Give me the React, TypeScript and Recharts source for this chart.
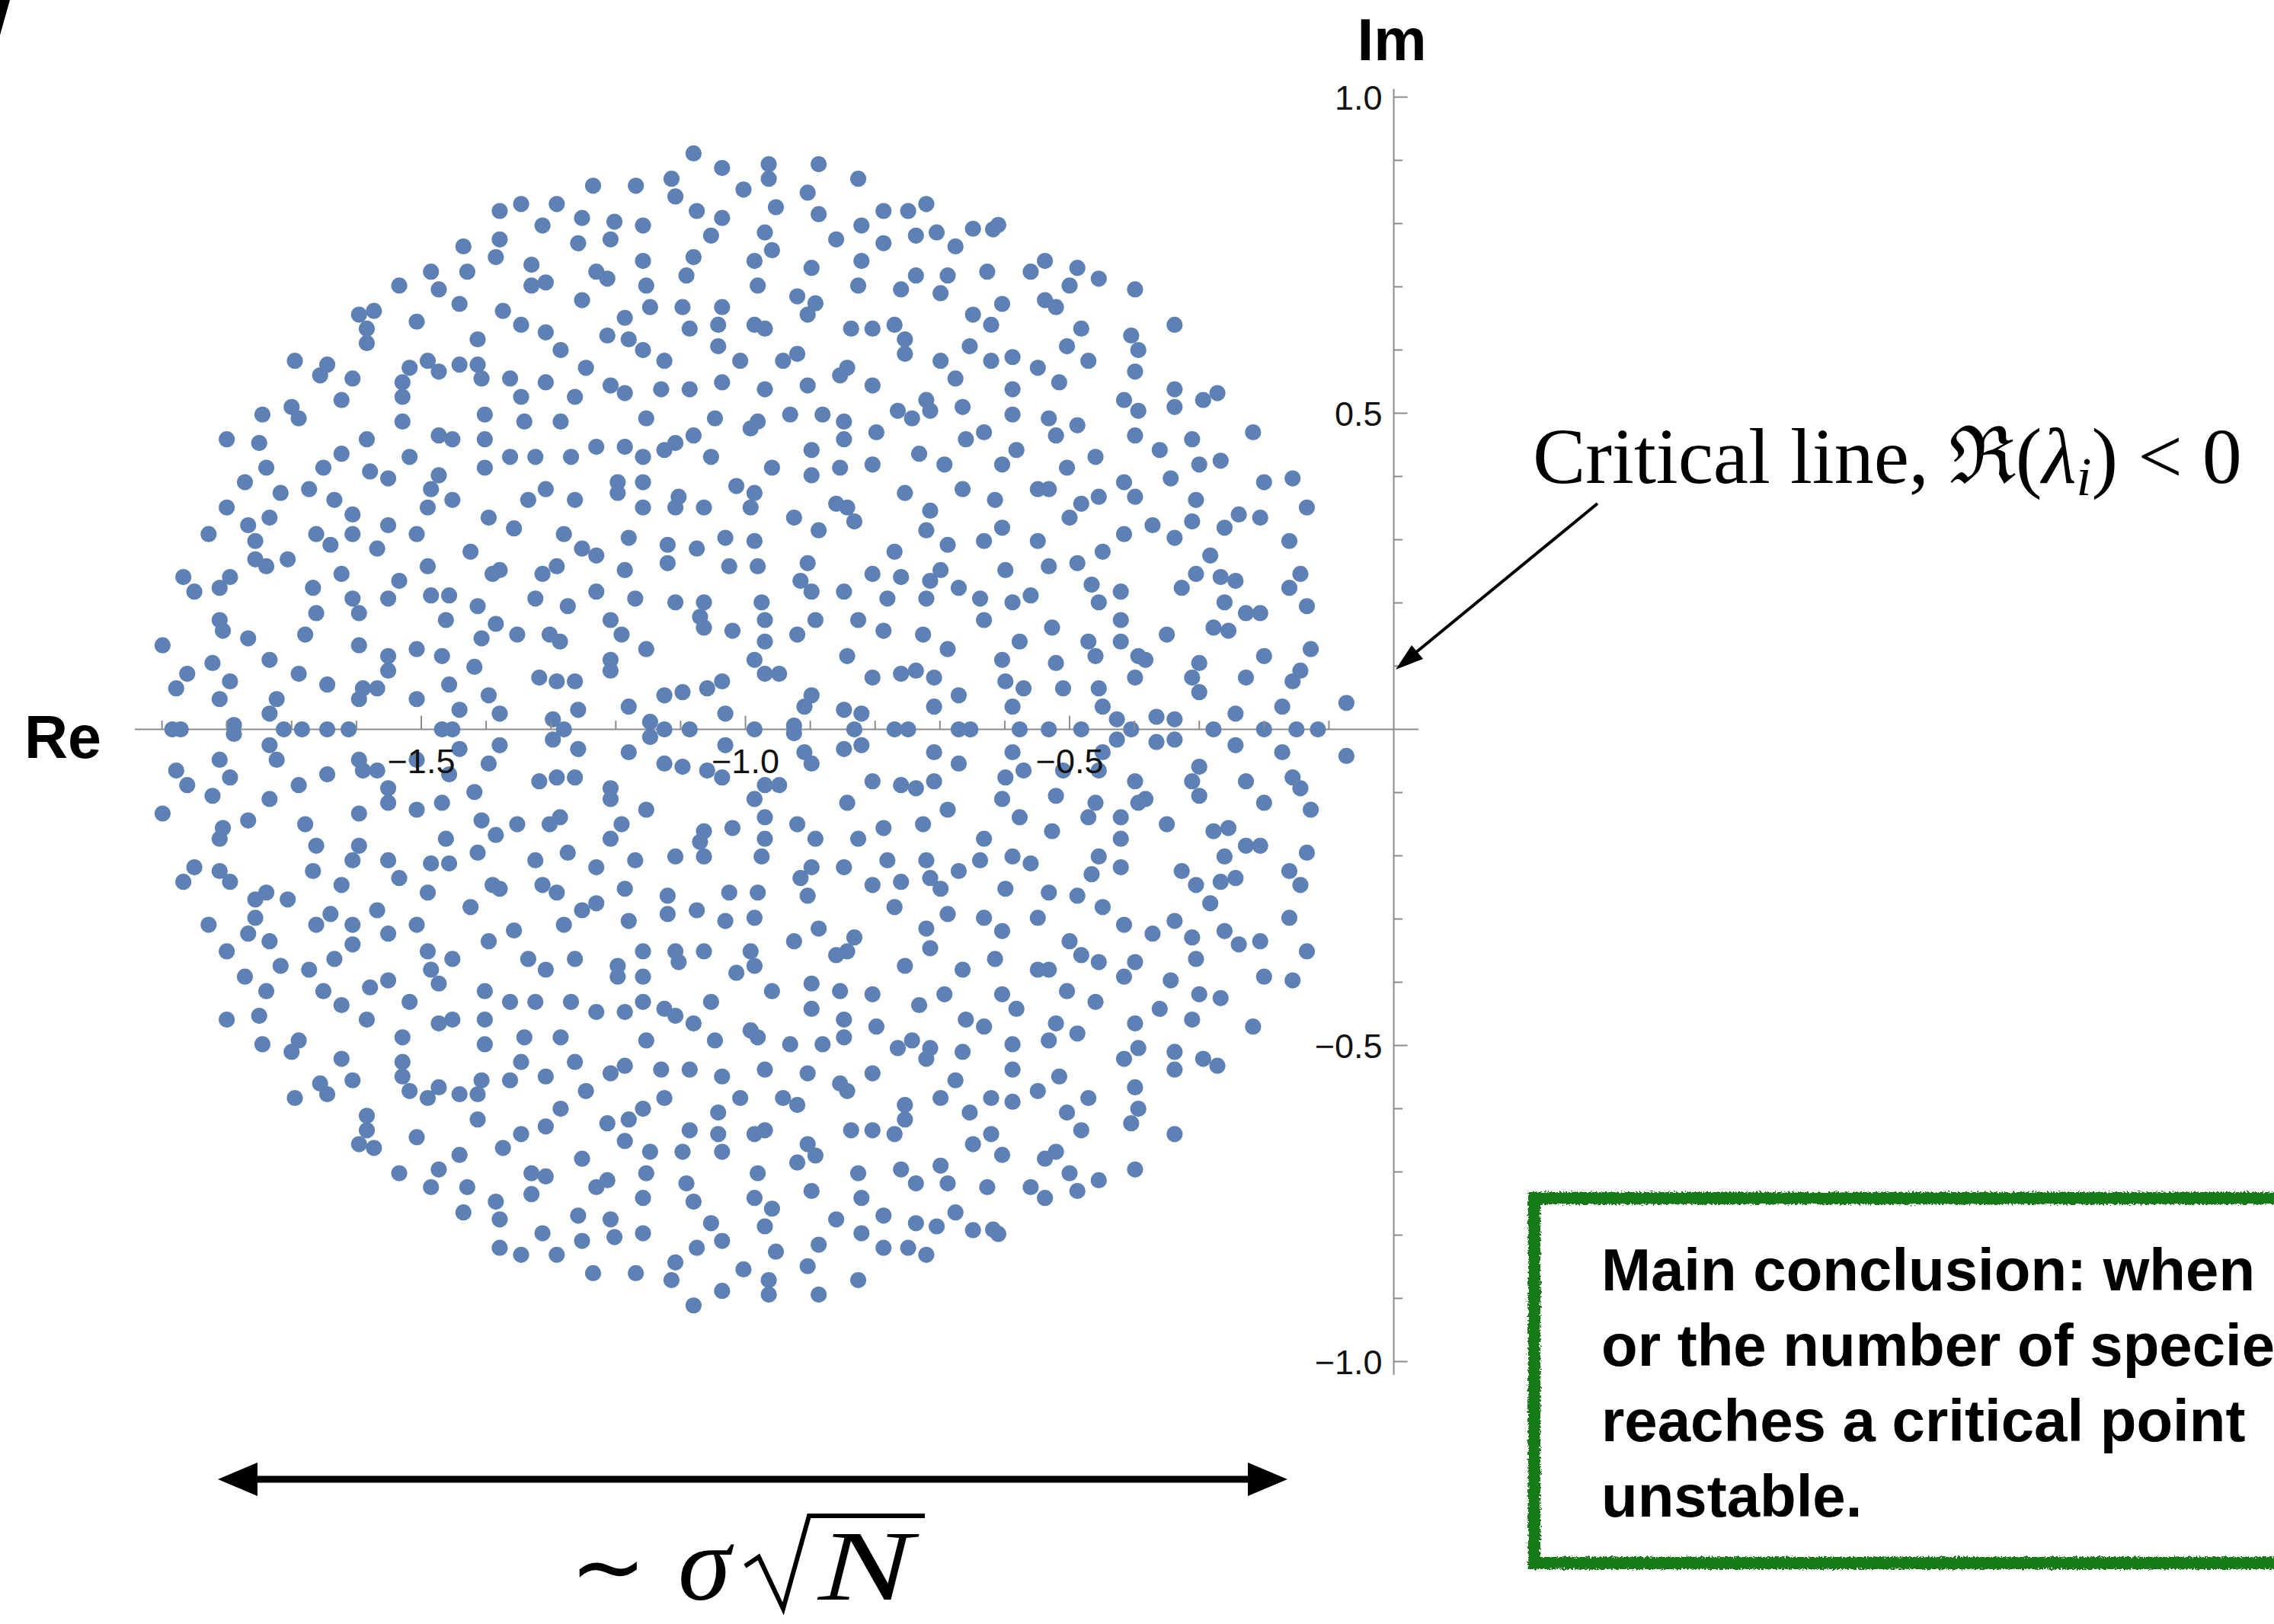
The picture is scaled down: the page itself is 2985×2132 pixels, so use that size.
import React from "react";
import { ScatterChart, Scatter, XAxis, YAxis, ReferenceLine } from "recharts";

type Pair = [number, number];

const W = 2985;
const H = 2132;
const DOT = "#5E81B5";
const AXIS = "#8c8c8c";
const SANS = "'Liberation Sans', Arial, Helvetica, sans-serif";
const SERIF = "'Liberation Serif', 'Times New Roman', serif";

// eigenvalues, [Re, Im]
const upperWest: Pair[] = [
  [-1.346,.831],[-1.379,.820],[-1.379,.775],[-1.435,.764],[-1.385,.747],[-1.330,.735],[-1.485,.724],[-1.429,.724],[-1.534,.702],[-1.473,.696],
  [-1.330,.702],[-1.441,.673],[-1.596,.656],[-1.573,.662],[-1.374,.662],[-1.507,.645],[-1.584,.634],[-1.346,.640],[-1.584,.611],[-1.413,.617],
  [-1.695,.583],[-1.645,.577],[-1.656,.560],[-1.606,.555],[-1.518,.572],[-1.490,.583],[-1.473,.566],[-1.441,.577],[-1.413,.577],[-1.407,.555],
  [-1.363,.555],[-1.529,.549],[-1.529,.526],[-1.346,.526],[-1.623,.521],[-1.700,.510],[-1.689,.492],[-1.745,.498],[-1.529,.487],[-1.402,.498],
  [-1.341,.487],[-1.800,.459],[-1.750,.453],[-1.584,.459],[-1.473,.465],[-1.452,.459],[-1.402,.459],[-1.623,.436],[-1.518,.431],[-1.363,.431],
  [-1.324,.431],[-1.739,.414],[-1.651,.414],[-1.579,.408],[-1.551,.397],[-1.402,.414],[-1.473,.402],[-1.772,.391],[-1.717,.374],[-1.673,.380],
  [-1.485,.380],[-1.800,.351],[-1.634,.363],[-1.490,.351],[-1.452,.363],[-1.335,.363],[-1.606,.340],[-1.767,.323],[-1.734,.335],[-1.396,.335],
  [-1.357,.318],[-1.551,.323],
];

const upperCentre: Pair[] = [
  [-1.080,.911],[-1.036,.888],[-0.964,.894],[-0.887,.894],[-1.114,.871],[-0.964,.871],[-0.826,.871],[-1.235,.860],[-1.169,.860],[-1.003,.854],
  [-0.904,.849],[-1.108,.843],[-1.291,.831],[-0.721,.831],[-1.075,.820],[-0.787,.820],[-0.749,.820],[-1.252,.809],[-1.202,.803],[-1.036,.809],
  [-0.953,.826],[-0.887,.815],[-1.313,.797],[-1.158,.797],[-0.821,.797],[-1.258,.769],[-1.208,.775],[-1.053,.781],[-0.970,.786],[-0.860,.775],
  [-0.787,.769],[-0.737,.781],[-0.959,.758],[-1.158,.741],[-1.080,.747],[-0.986,.741],[-0.821,.741],[-0.898,.730],[-1.230,.724],[-1.213,.713],
  [-1.308,.707],[-1.091,.718],[-1.153,.702],[-0.981,.702],[-0.826,.702],[-0.737,.718],[-0.760,.696],[-1.252,.679],[-1.147,.668],[-1.097,.668],
  [-1.036,.668],[-0.920,.685],[-0.892,.674],[-0.904,.656],[-1.186,.651],[-1.308,.628],[-1.213,.623],[-1.180,.617],[-1.086,.634],[-1.042,.640],
  [-0.986,.640],[-0.970,.634],[-0.837,.634],[-0.804,.634],[-0.770,.640],[-0.754,.617],[-1.285,.600],[-1.158,.600],[-1.042,.606],[-0.754,.594],
  [-1.125,.583],[-1.008,.583],[-0.942,.583],[-0.920,.594],[-0.843,.572],[-0.854,.560],[-1.246,.572],[-1.308,.549],[-1.208,.544],[-1.186,.532],
  [-1.130,.538],[-1.086,.538],[-1.036,.549],[-0.970,.538],[-0.904,.544],[-0.804,.544],[-1.263,.526],[-0.721,.521],[-0.715,.504],[-0.765,.504],
  [-0.743,.492],[-1.285,.487],[-1.153,.492],[-1.047,.492],[-0.981,.487],[-0.992,.476],[-0.931,.498],[-0.881,.498],[-0.848,.487],[-0.848,.459],
  [-0.798,.470],[-1.230,.447],[-1.186,.447],[-1.108,.453],[-1.125,.442],[-1.080,.465],[-1.269,.431],[-1.158,.431],[-1.053,.431],[-0.898,.442],
  [-0.732,.436],[-0.959,.414],[-0.898,.402],[-0.854,.414],[-0.804,.419],[-1.197,.391],[-1.158,.391],[-1.197,.374],[-1.308,.380],[-1.263,.363],
  [-1.014,.385],[-0.986,.374],[-1.103,.368],[-1.108,.351],[-1.158,.351],[-1.064,.351],[-0.992,.351],[-0.860,.357],[-0.843,.351],[-0.754,.374],
  [-0.715,.346],[-0.925,.335],[-0.832,.329],
];

const upperEast: Pair[] = [
  [-0.705,.786],[-0.649,.792],[-0.618,.791],[-0.610,.798],[-0.676,.764],[-0.688,.718],[-0.627,.724],[-0.560,.724],[-0.538,.741],[-0.488,.730],
  [-0.455,.713],[-0.500,.702],[-0.699,.690],[-0.399,.696],[-0.604,.673],[-0.649,.656],[-0.538,.679],[-0.521,.668],[-0.621,.640],[-0.482,.634],
  [-0.338,.640],[-0.405,.623],[-0.394,.600],[-0.654,.606],[-0.504,.606],[-0.699,.583],[-0.621,.583],[-0.588,.589],[-0.549,.572],[-0.471,.583],
  [-0.399,.566],[-0.676,.555],[-0.516,.549],[-0.588,.538],[-0.338,.538],[-0.665,.510],[-0.588,.498],[-0.532,.492],[-0.488,.481],[-0.416,.521],
  [-0.394,.504],[-0.338,.510],[-0.294,.521],[-0.272,.532],[-0.632,.470],[-0.660,.459],[-0.521,.465],[-0.399,.465],[-0.311,.459],[-0.217,.470],
  [-0.582,.442],[-0.361,.442],[-0.693,.419],[-0.604,.419],[-0.504,.414],[-0.460,.431],[-0.300,.419],[-0.267,.425],[-0.665,.380],[-0.615,.363],
  [-0.549,.380],[-0.532,.380],[-0.416,.391],[-0.399,.368],[-0.344,.397],[-0.200,.391],[-0.156,.397],[-0.455,.368],[-0.482,.357],[-0.305,.363],
  [-0.134,.351],[-0.500,.335],[-0.239,.340],[-0.206,.335],[-0.311,.329],[-0.372,.323],[-0.604,.319],[-0.261,.319],
];

const upperInner: Pair[] = [
  [-1.828,.309],[-1.662,.309],[-1.606,.309],[-1.507,.309],[-1.640,.292],[-1.568,.286],[-1.756,.298],[-1.756,.269],[-1.739,.258],[-1.706,.269],
  [-1.424,.281],[-1.490,.258],[-1.867,.241],[-1.795,.241],[-1.811,.224],[-1.850,.218],[-1.623,.246],[-1.534,.235],[-1.667,.224],[-1.390,.246],
  [-1.379,.252],[-1.606,.207],[-1.551,.207],[-1.485,.212],[-1.457,.212],[-1.324,.207],[-1.413,.195],[-1.662,.184],[-1.596,.184],[-1.462,.173],
  [-1.811,.173],[-1.806,.156],[-1.767,.144],[-1.679,.150],[-1.385,.167],[-1.407,.144],[-1.352,.150],[-1.899,.133],[-1.596,.133],[-1.507,.127],
  [-1.551,.116],[-1.468,.116],[-1.822,.105],[-1.734,.110],[-1.551,.093],[-1.418,.099],[-1.861,.088],[-1.878,.065],[-1.795,.076],[-1.689,.088],
  [-1.645,.071],[-1.590,.065],[-1.568,.065],[-1.457,.071],[-1.318,.082],[-1.596,.048],[-1.811,.048],[-1.723,.048],[-1.507,.048],[-1.396,.054],
  [-1.734,.025],[-1.441,.031],[-1.379,.025],
  [-1.280,.309],[-1.180,.303],[-1.120,.292],[-1.075,.286],[-1.031,.303],[-0.986,.298],[-0.887,.315],[-0.721,.315],[-1.252,.286],[-1.230,.275],
  [-1.313,.246],[-1.291,.258],[-1.186,.252],[-1.120,.263],[-1.025,.258],[-0.981,.258],[-0.904,.263],[-0.915,.235],[-0.898,.218],[-0.804,.246],
  [-0.770,.281],[-0.760,.241],[-0.715,.235],[-1.274,.195],[-1.230,.218],[-1.170,.207],[-1.108,.201],[-1.064,.201],[-1.070,.178],[-1.064,.161],
  [-0.975,.201],[-0.970,.173],[-0.970,.139],[-1.020,.156],[-0.848,.218],[-0.781,.207],[-0.721,.207],[-1.208,.173],[-1.191,.150],[-1.302,.150],
  [-1.286,.139],[-1.153,.127],[-0.920,.150],[-0.892,.173],[-0.826,.173],[-0.787,.156],[-0.726,.150],[-1.208,.110],[-1.208,.093],[-0.986,.110],
  [-0.843,.116],[-1.291,.076],[-1.263,.076],[-0.970,.088],[-0.948,.088],[-0.804,.082],[-0.760,.088],[-0.737,.093],[-0.709,.082],[-1.125,.054],
  [-1.097,.059],[-1.059,.065],[-1.036,.076],[-0.898,.054],[-0.909,.036],[-1.258,.031],[-1.180,.036],[-1.031,.025],[-0.848,.031],[-0.821,.025],
  [-0.709,.036],[-1.297,.016],
  [-0.688,.292],[-0.632,.298],[-0.549,.298],[-0.416,.309],[-0.338,.303],[-0.161,.298],[-0.449,.281],[-0.283,.275],[-0.699,.252],[-0.599,.252],
  [-0.532,.258],[-0.488,.263],[-0.305,.246],[-0.267,.241],[-0.244,.235],[-0.144,.246],[-0.161,.224],[-0.671,.224],[-0.638,.207],[-0.588,.201],
  [-0.560,.212],[-0.466,.229],[-0.455,.201],[-0.421,.218],[-0.327,.224],[-0.261,.201],[-0.228,.184],[-0.206,.184],[-0.134,.195],[-0.632,.173],
  [-0.527,.161],[-0.421,.173],[-0.350,.150],[-0.278,.161],[-0.255,.156],[-0.688,.127],[-0.577,.139],[-0.471,.139],[-0.460,.116],[-0.421,.139],
  [-0.394,.116],[-0.383,.110],[-0.200,.116],[-0.128,.127],[-0.604,.110],[-0.521,.105],[-0.300,.105],[-0.599,.076],[-0.571,.065],[-0.510,.065],
  [-0.455,.065],[-0.399,.082],[-0.311,.082],[-0.300,.059],[-0.228,.082],[-0.144,.093],[-0.156,.076],[-0.671,.054],[-0.588,.036],[-0.449,.036],
  [-0.427,.016],[-0.366,.020],[-0.338,.016],[-0.244,.025],[-0.172,.036],[-0.073,.042],
  [-1.789,.007],[-1.147,.012],[-0.925,.006],
];

// eigenvalues on the real axis (Im = 0)
const realAxis: number[] = [
  -1.884, -1.871, -1.712, -1.684, -1.645, -1.612, -1.468, -1.452, -1.280, -1.125, -1.086, -0.986, -0.832,
  -0.770, -0.749, -0.671, -0.653, -0.577, -0.532, -0.482, -0.405, -0.278, -0.200, -0.150, -0.117,
];

const lowerWest: Pair[] = [
  [-1.346,-.831],[-1.379,-.820],[-1.379,-.775],[-1.435,-.764],[-1.385,-.747],[-1.330,-.735],[-1.485,-.724],[-1.429,-.724],[-1.534,-.702],[-1.473,-.696],
  [-1.330,-.702],[-1.441,-.673],[-1.596,-.656],[-1.573,-.662],[-1.374,-.662],[-1.507,-.645],[-1.584,-.634],[-1.346,-.640],[-1.584,-.611],[-1.413,-.617],
  [-1.695,-.583],[-1.645,-.577],[-1.656,-.560],[-1.606,-.555],[-1.518,-.572],[-1.490,-.583],[-1.473,-.566],[-1.441,-.577],[-1.413,-.577],[-1.407,-.555],
  [-1.363,-.555],[-1.529,-.549],[-1.529,-.526],[-1.346,-.526],[-1.623,-.521],[-1.700,-.510],[-1.689,-.492],[-1.745,-.498],[-1.529,-.487],[-1.402,-.498],
  [-1.341,-.487],[-1.800,-.459],[-1.750,-.453],[-1.584,-.459],[-1.473,-.465],[-1.452,-.459],[-1.402,-.459],[-1.623,-.436],[-1.518,-.431],[-1.363,-.431],
  [-1.324,-.431],[-1.739,-.414],[-1.651,-.414],[-1.579,-.408],[-1.551,-.397],[-1.402,-.414],[-1.473,-.402],[-1.772,-.391],[-1.717,-.374],[-1.673,-.380],
  [-1.485,-.380],[-1.800,-.351],[-1.634,-.363],[-1.490,-.351],[-1.452,-.363],[-1.335,-.363],[-1.606,-.340],[-1.767,-.323],[-1.734,-.335],[-1.396,-.335],
  [-1.357,-.318],[-1.551,-.323],
];

const lowerCentre: Pair[] = [
  [-1.080,-.911],[-1.036,-.888],[-0.964,-.894],[-0.887,-.894],[-1.114,-.871],[-0.964,-.871],[-0.826,-.871],[-1.235,-.860],[-1.169,-.860],[-1.003,-.854],
  [-0.904,-.849],[-1.108,-.843],[-1.291,-.831],[-0.721,-.831],[-1.075,-.820],[-0.787,-.820],[-0.749,-.820],[-1.252,-.809],[-1.202,-.803],[-1.036,-.809],
  [-0.953,-.826],[-0.887,-.815],[-1.313,-.797],[-1.158,-.797],[-0.821,-.797],[-1.258,-.769],[-1.208,-.775],[-1.053,-.781],[-0.970,-.786],[-0.860,-.775],
  [-0.787,-.769],[-0.737,-.781],[-0.959,-.758],[-1.158,-.741],[-1.080,-.747],[-0.986,-.741],[-0.821,-.741],[-0.898,-.730],[-1.230,-.724],[-1.213,-.713],
  [-1.308,-.707],[-1.091,-.718],[-1.153,-.702],[-0.981,-.702],[-0.826,-.702],[-0.737,-.718],[-0.760,-.696],[-1.252,-.679],[-1.147,-.668],[-1.097,-.668],
  [-1.036,-.668],[-0.920,-.685],[-0.892,-.674],[-0.904,-.656],[-1.186,-.651],[-1.308,-.628],[-1.213,-.623],[-1.180,-.617],[-1.086,-.634],[-1.042,-.640],
  [-0.986,-.640],[-0.970,-.634],[-0.837,-.634],[-0.804,-.634],[-0.770,-.640],[-0.754,-.617],[-1.285,-.600],[-1.158,-.600],[-1.042,-.606],[-0.754,-.594],
  [-1.125,-.583],[-1.008,-.583],[-0.942,-.583],[-0.920,-.594],[-0.843,-.572],[-0.854,-.560],[-1.246,-.572],[-1.308,-.549],[-1.208,-.544],[-1.186,-.532],
  [-1.130,-.538],[-1.086,-.538],[-1.036,-.549],[-0.970,-.538],[-0.904,-.544],[-0.804,-.544],[-1.263,-.526],[-0.721,-.521],[-0.715,-.504],[-0.765,-.504],
  [-0.743,-.492],[-1.285,-.487],[-1.153,-.492],[-1.047,-.492],[-0.981,-.487],[-0.992,-.476],[-0.931,-.498],[-0.881,-.498],[-0.848,-.487],[-0.848,-.459],
  [-0.798,-.470],[-1.230,-.447],[-1.186,-.447],[-1.108,-.453],[-1.125,-.442],[-1.080,-.465],[-1.269,-.431],[-1.158,-.431],[-1.053,-.431],[-0.898,-.442],
  [-0.732,-.436],[-0.959,-.414],[-0.898,-.402],[-0.854,-.414],[-0.804,-.419],[-1.197,-.391],[-1.158,-.391],[-1.197,-.374],[-1.308,-.380],[-1.263,-.363],
  [-1.014,-.385],[-0.986,-.374],[-1.103,-.368],[-1.108,-.351],[-1.158,-.351],[-1.064,-.351],[-0.992,-.351],[-0.860,-.357],[-0.843,-.351],[-0.754,-.374],
  [-0.715,-.346],[-0.925,-.335],[-0.832,-.329],
];

const lowerEast: Pair[] = [
  [-0.705,-.786],[-0.649,-.792],[-0.618,-.791],[-0.610,-.798],[-0.676,-.764],[-0.688,-.718],[-0.627,-.724],[-0.560,-.724],[-0.538,-.741],[-0.488,-.730],
  [-0.455,-.713],[-0.500,-.702],[-0.699,-.690],[-0.399,-.696],[-0.604,-.673],[-0.649,-.656],[-0.538,-.679],[-0.521,-.668],[-0.621,-.640],[-0.482,-.634],
  [-0.338,-.640],[-0.405,-.623],[-0.394,-.600],[-0.654,-.606],[-0.504,-.606],[-0.699,-.583],[-0.621,-.583],[-0.588,-.589],[-0.549,-.572],[-0.471,-.583],
  [-0.399,-.566],[-0.676,-.555],[-0.516,-.549],[-0.588,-.538],[-0.338,-.538],[-0.665,-.510],[-0.588,-.498],[-0.532,-.492],[-0.488,-.481],[-0.416,-.521],
  [-0.394,-.504],[-0.338,-.510],[-0.294,-.521],[-0.272,-.532],[-0.632,-.470],[-0.660,-.459],[-0.521,-.465],[-0.399,-.465],[-0.311,-.459],[-0.217,-.470],
  [-0.582,-.442],[-0.361,-.442],[-0.693,-.419],[-0.604,-.419],[-0.504,-.414],[-0.460,-.431],[-0.300,-.419],[-0.267,-.425],[-0.665,-.380],[-0.615,-.363],
  [-0.549,-.380],[-0.532,-.380],[-0.416,-.391],[-0.399,-.368],[-0.344,-.397],[-0.200,-.391],[-0.156,-.397],[-0.455,-.368],[-0.482,-.357],[-0.305,-.363],
  [-0.134,-.351],[-0.500,-.335],[-0.239,-.340],[-0.206,-.335],[-0.311,-.329],[-0.372,-.323],[-0.604,-.319],[-0.261,-.319],
];

const lowerInner: Pair[] = [
  [-1.828,-.309],[-1.662,-.309],[-1.606,-.309],[-1.507,-.309],[-1.640,-.292],[-1.568,-.286],[-1.756,-.298],[-1.756,-.269],[-1.739,-.258],[-1.706,-.269],
  [-1.424,-.281],[-1.490,-.258],[-1.867,-.241],[-1.795,-.241],[-1.811,-.224],[-1.850,-.218],[-1.623,-.246],[-1.534,-.235],[-1.667,-.224],[-1.390,-.246],
  [-1.379,-.252],[-1.606,-.207],[-1.551,-.207],[-1.485,-.212],[-1.457,-.212],[-1.324,-.207],[-1.413,-.195],[-1.662,-.184],[-1.596,-.184],[-1.462,-.173],
  [-1.811,-.173],[-1.806,-.156],[-1.767,-.144],[-1.679,-.150],[-1.385,-.167],[-1.407,-.144],[-1.352,-.150],[-1.899,-.133],[-1.596,-.133],[-1.507,-.127],
  [-1.551,-.116],[-1.468,-.116],[-1.822,-.105],[-1.734,-.110],[-1.551,-.093],[-1.418,-.099],[-1.861,-.088],[-1.878,-.065],[-1.795,-.076],[-1.689,-.088],
  [-1.645,-.071],[-1.590,-.065],[-1.568,-.065],[-1.457,-.071],[-1.318,-.082],[-1.596,-.048],[-1.811,-.048],[-1.723,-.048],[-1.507,-.048],[-1.396,-.054],
  [-1.734,-.025],[-1.441,-.031],[-1.379,-.025],
  [-1.280,-.309],[-1.180,-.303],[-1.120,-.292],[-1.075,-.286],[-1.031,-.303],[-0.986,-.298],[-0.887,-.315],[-0.721,-.315],[-1.252,-.286],[-1.230,-.275],
  [-1.313,-.246],[-1.291,-.258],[-1.186,-.252],[-1.120,-.263],[-1.025,-.258],[-0.981,-.258],[-0.904,-.263],[-0.915,-.235],[-0.898,-.218],[-0.804,-.246],
  [-0.770,-.281],[-0.760,-.241],[-0.715,-.235],[-1.274,-.195],[-1.230,-.218],[-1.170,-.207],[-1.108,-.201],[-1.064,-.201],[-1.070,-.178],[-1.064,-.161],
  [-0.975,-.201],[-0.970,-.173],[-0.970,-.139],[-1.020,-.156],[-0.848,-.218],[-0.781,-.207],[-0.721,-.207],[-1.208,-.173],[-1.191,-.150],[-1.302,-.150],
  [-1.286,-.139],[-1.153,-.127],[-0.920,-.150],[-0.892,-.173],[-0.826,-.173],[-0.787,-.156],[-0.726,-.150],[-1.208,-.110],[-1.208,-.093],[-0.986,-.110],
  [-0.843,-.116],[-1.291,-.076],[-1.263,-.076],[-0.970,-.088],[-0.948,-.088],[-0.804,-.082],[-0.760,-.088],[-0.737,-.093],[-0.709,-.082],[-1.125,-.054],
  [-1.097,-.059],[-1.059,-.065],[-1.036,-.076],[-0.898,-.054],[-0.909,-.036],[-1.258,-.031],[-1.180,-.036],[-1.031,-.025],[-0.848,-.031],[-0.821,-.025],
  [-0.709,-.036],[-1.297,-.016],
  [-0.688,-.292],[-0.632,-.298],[-0.549,-.298],[-0.416,-.309],[-0.338,-.303],[-0.161,-.298],[-0.449,-.281],[-0.283,-.275],[-0.699,-.252],[-0.599,-.252],
  [-0.532,-.258],[-0.488,-.263],[-0.305,-.246],[-0.267,-.241],[-0.244,-.235],[-0.144,-.246],[-0.161,-.224],[-0.671,-.224],[-0.638,-.207],[-0.588,-.201],
  [-0.560,-.212],[-0.466,-.229],[-0.455,-.201],[-0.421,-.218],[-0.327,-.224],[-0.261,-.201],[-0.228,-.184],[-0.206,-.184],[-0.134,-.195],[-0.632,-.173],
  [-0.527,-.161],[-0.421,-.173],[-0.350,-.150],[-0.278,-.161],[-0.255,-.156],[-0.688,-.127],[-0.577,-.139],[-0.471,-.139],[-0.460,-.116],[-0.421,-.139],
  [-0.394,-.116],[-0.383,-.110],[-0.200,-.116],[-0.128,-.127],[-0.604,-.110],[-0.521,-.105],[-0.300,-.105],[-0.599,-.076],[-0.571,-.065],[-0.510,-.065],
  [-0.455,-.065],[-0.399,-.082],[-0.311,-.082],[-0.300,-.059],[-0.228,-.082],[-0.144,-.093],[-0.156,-.076],[-0.671,-.054],[-0.588,-.036],[-0.449,-.036],
  [-0.427,-.016],[-0.366,-.020],[-0.338,-.016],[-0.244,-.025],[-0.172,-.036],[-0.073,-.042],
  [-1.789,-.007],[-1.147,-.012],[-0.925,-.006],
];

// axes
const xMajorTicks = [-1.5, -1.0, -0.5];
const xMajorLabels = ["\u22121.5", "\u22121.0", "\u22120.5"];
const xMinorTicks = [-1.9, -1.8, -1.7, -1.6, -1.4, -1.3, -1.2, -1.1, -0.9, -0.8, -0.7, -0.6, -0.4, -0.3, -0.2, -0.1];
const yMajorTicks = [1.0, 0.5, -0.5, -1.0];
const yMajorLabels = ["1.0", "0.5", "\u22120.5", "\u22121.0"];
const yMinorTicks = [0.9, 0.8, 0.7, 0.6, 0.4, 0.3, 0.2, 0.1, -0.1, -0.2, -0.3, -0.4, -0.6, -0.7, -0.8, -0.9];

const boxLines = [
  "Main conclusion: when",
  "or the number of species",
  "reaches a critical point",
  "unstable.",
];

const toPts = (rows: Pair[]) => rows.map(([re, im]) => ({ re, im }));

const eigenvalues = [
  ...toPts(upperWest),
  ...toPts(upperCentre),
  ...toPts(upperEast),
  ...toPts(upperInner),
  ...realAxis.map((re) => ({ re, im: 0 })),
  ...toPts(lowerInner),
  ...toPts(lowerWest),
  ...toPts(lowerCentre),
  ...toPts(lowerEast),
];

const xTickData = [
  ...xMajorTicks.map((re, i) => ({ re, im: 0, label: xMajorLabels[i] })),
  ...xMinorTicks.map((re) => ({ re, im: 0, label: "" })),
];
const yTickData = [
  ...yMajorTicks.map((im, i) => ({ re: 0, im, label: yMajorLabels[i] })),
  ...yMinorTicks.map((im) => ({ re: 0, im, label: "" })),
];

function EigenDot(props: any) {
  const { cx, cy } = props;
  if (cx == null || cy == null) return null;
  return <circle cx={cx} cy={cy} r={10.6} fill={DOT} />;
}

function XTick(props: any) {
  const { cx, cy } = props;
  const label = props.payload?.label ?? props.label;
  return (
    <g>
      <line x1={cx} y1={cy} x2={cx} y2={cy - (label ? 18 : 11.5)} stroke={AXIS} strokeWidth={2} />
      {label ? (
        <text x={cx} y={cy + 57} textAnchor="middle" fontFamily={SANS} fontSize={45} fill="#111">
          {label}
        </text>
      ) : null}
    </g>
  );
}

function YTick(props: any) {
  const { cx, cy } = props;
  const label = props.payload?.label ?? props.label;
  return (
    <g>
      <line x1={cx} y1={cy} x2={cx + (label ? 18 : 11.5)} y2={cy} stroke={AXIS} strokeWidth={2} />
      {label ? (
        <text x={cx - 15} y={cy + 16} textAnchor="end" fontFamily={SANS} fontSize={45} fill="#111">
          {label}
        </text>
      ) : null}
    </g>
  );
}

export default function App() {
  return (
    <div style={{ position: "absolute", left: 0, top: 0, width: W, height: H, background: "#fff", overflow: "hidden" }}>
      <ScatterChart width={W} height={H} margin={{ top: 44.6, right: 1112.9, bottom: 261.4, left: 127.5 }}>
        <XAxis type="number" dataKey="re" domain={[-2.0, 0.05]} allowDataOverflow hide />
        <YAxis type="number" dataKey="im" domain={[-1.1, 1.1]} allowDataOverflow hide />
        <ReferenceLine segment={[{ x: -1.942, y: 0 }, { x: 0.038, y: 0 }]} stroke={AXIS} strokeWidth={2} />
        <ReferenceLine segment={[{ x: 0, y: -1.021 }, { x: 0, y: 1.013 }]} stroke={AXIS} strokeWidth={2} />
        <Scatter data={eigenvalues} shape={EigenDot} isAnimationActive={false} />
        <Scatter data={xTickData} shape={XTick} isAnimationActive={false} />
        <Scatter data={yTickData} shape={YTick} isAnimationActive={false} />
      </ScatterChart>

      <svg width={W} height={H} style={{ position: "absolute", left: 0, top: 0, pointerEvents: "none" }}>
        <defs>
          <filter id="rough" x="-5%" y="-5%" width="110%" height="110%">
            <feTurbulence type="fractalNoise" baseFrequency="0.4" numOctaves={2} seed={3} result="noise" />
            <feDisplacementMap in="SourceGraphic" in2="noise" scale={7} xChannelSelector="R" yChannelSelector="G" />
          </filter>
        </defs>

        <polygon points="0,0 13,0 0,46" fill="#000" />

        <text x={1827} y={79} textAnchor="middle" fontFamily={SANS} fontWeight={700} fontSize={78}>
          Im
        </text>
        <text x={32} y={995} fontFamily={SANS} fontWeight={700} fontSize={79}>
          Re
        </text>

        <text x={2012} y={634} fontFamily={SERIF} fontSize={104} fill="#000">
          Critical line, ℜ(
          <tspan fontStyle="italic">λ</tspan>
          <tspan fontStyle="italic" fontSize={72} dy={16}>
            i
          </tspan>
          <tspan dy={-16}>) &lt; 0</tspan>
        </text>
        <line x1={2097} y1={661} x2={1858} y2={857} stroke="#000" strokeWidth={4} />
        <polygon points="1832,879 1853,847 1868,865" fill="#000" />

        <line x1={330} y1={1942} x2={1646} y2={1942} stroke="#000" strokeWidth={9} />
        <polygon points="286,1942 338,1920 338,1964" fill="#000" />
        <polygon points="1690,1942 1638,1920 1638,1964" fill="#000" />

        <text x={748} y={2098} fontFamily={SERIF} fontSize={120}>
          ∼
        </text>
        <text x={890} y={2100} fontFamily={SERIF} fontStyle="italic" fontSize={140}>
          σ
        </text>
        <path d="M978 2056 L996 2044 L1028 2112 L1062 1990 L1214 1990" stroke="#000" strokeWidth={6} fill="none" />
        <text x={1074} y={2100} fontFamily={SERIF} fontStyle="italic" fontSize={132} textLength={124} lengthAdjust="spacingAndGlyphs">
          N
        </text>

        <rect x={2014} y={1573} width={1100} height={479} fill="none" stroke="#177a17" strokeWidth={16} filter="url(#rough)" />
        {boxLines.map((t, i) => (
          <text key={i} x={2102} y={1694 + i * 99} fontFamily={SANS} fontWeight={700} fontSize={78} fill="#000">
            {t}
          </text>
        ))}
      </svg>
    </div>
  );
}
